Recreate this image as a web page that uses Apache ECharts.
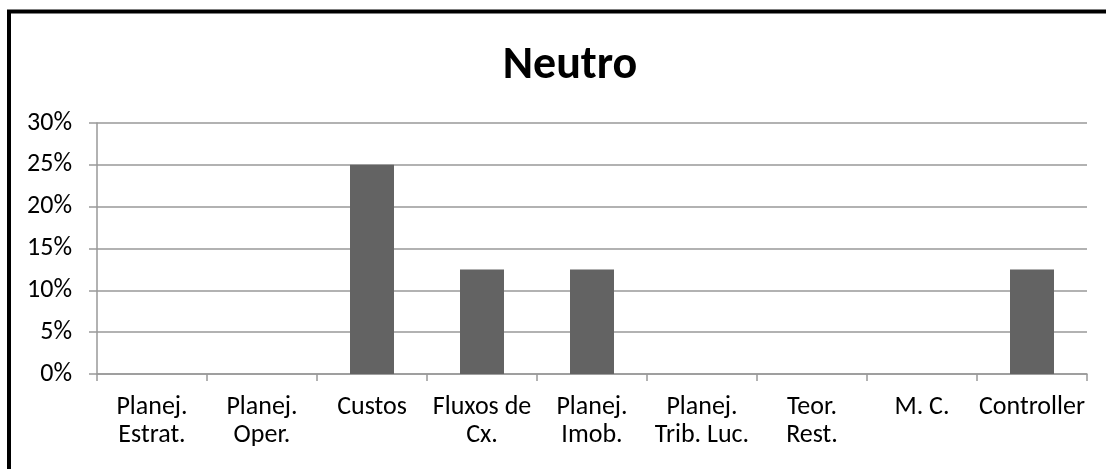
<!DOCTYPE html>
<html>
<head>
<meta charset="utf-8">
<script src="https://cdn.jsdelivr.net/npm/echarts@6/dist/echarts.min.js"></script>
<style>
  html, body { margin: 0; padding: 0; background: #fff; }
  #chart { width: 1106px; height: 469px; }
</style>
</head>
<body>
<div id="chart"></div>
<script>
// Share of "Neutro" answers per subject
const categories = [
  'Planej.\nEstrat.', 'Planej.\nOper.', 'Custos', 'Fluxos de\nCx.', 'Planej.\nImob.',
  'Planej.\nTrib. Luc.', 'Teor.\nRest.', 'M. C.', 'Controller'
];
const values = [0, 0, 25, 12.5, 12.5, 0, 0, 0, 12.5];
const yTicks = { min: 0, max: 30, interval: 5 };

const FONT = 'Carlito, Lato, "Open Sans", sans-serif';
const chart = echarts.init(document.getElementById('chart'), null, { renderer: 'canvas' });

chart.setOption({
  backgroundColor: '#fff',
  animation: false,
  title: {
    text: 'Neutro',
    left: 565,
    top: 38,
    textAlign: 'center',
    textStyle: { fontFamily: FONT, fontSize: 46, fontWeight: 'bold', color: '#000' }
  },
  graphic: [
    { type: 'line', shape: { x1: 9, y1: 10, x2: 9, y2: 469 }, style: { stroke: '#000', lineWidth: 4 } },
    { type: 'line', shape: { x1: 7, y1: 11.5, x2: 1106, y2: 11.5 }, style: { stroke: '#000', lineWidth: 4 } }
  ],
  grid: { left: 97, right: 19, top: 123, bottom: 95 },
  xAxis: {
    type: 'category',
    data: categories,
    axisLine: { lineStyle: { color: '#999', width: 1.5 } },
    axisTick: { show: true, length: 7, lineStyle: { color: '#999', width: 1.5 } },
    axisLabel: {
      fontFamily: FONT, fontSize: 26, color: '#000', margin: 19, lineHeight: 28, interval: 0
    }
  },
  yAxis: {
    type: 'value',
    min: yTicks.min, max: yTicks.max, interval: yTicks.interval,
    axisLine: { show: true, lineStyle: { color: '#999', width: 1.5 } },
    axisTick: { show: true, length: 8, lineStyle: { color: '#999', width: 1.5 } },
    splitLine: { lineStyle: { color: '#999', width: 1.5 } },
    axisLabel: {
      fontFamily: FONT, fontSize: 26, color: '#000', margin: 25,
      formatter: v => v + '%'
    }
  },
  series: [{
    type: 'bar',
    data: values,
    barWidth: '40%',
    itemStyle: { color: '#636363', borderWidth: 0 }
  }]
});
</script>
</body>
</html>
